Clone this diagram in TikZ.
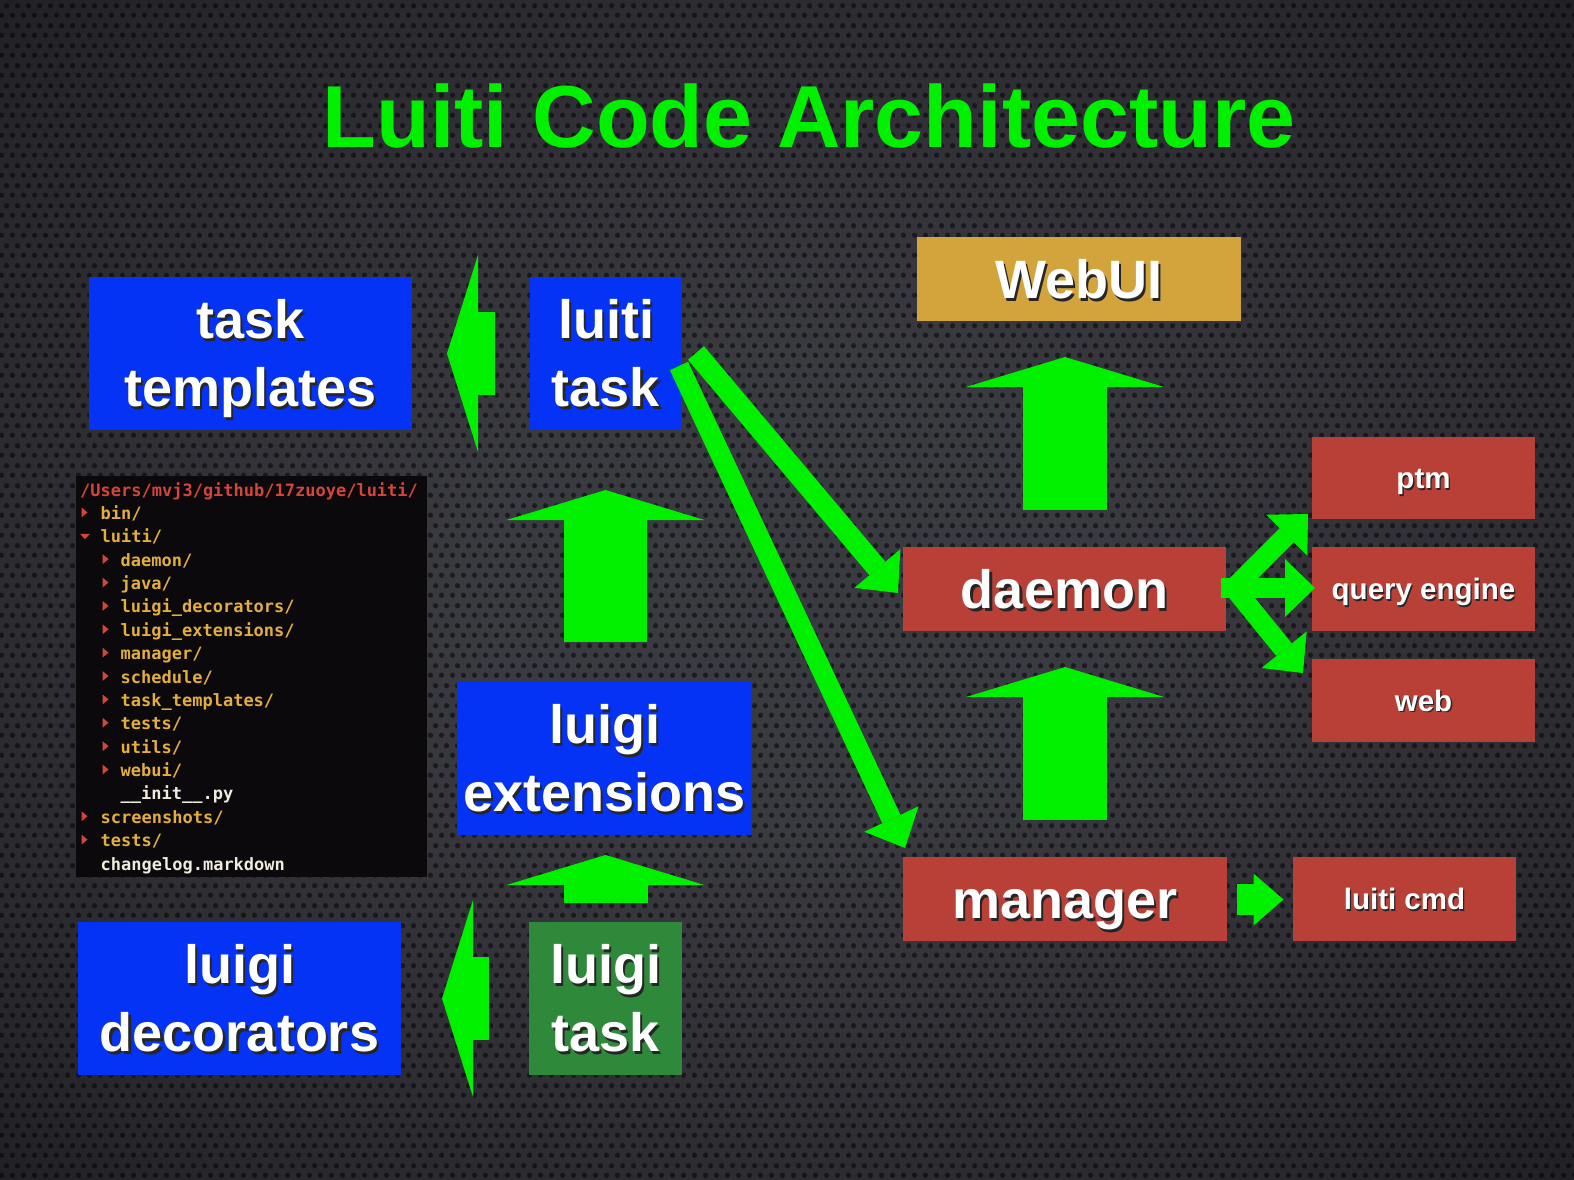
\documentclass[tikz,border=0pt]{standalone}
\usepackage{fontspec}
\setmainfont{Liberation Sans}
\newfontfamily\monof{DejaVu Sans Mono}
\usetikzlibrary{arrows.meta,patterns.meta}
\definecolor{lgreen}{HTML}{00F000}
\definecolor{bblue}{HTML}{0533F5}
\definecolor{bgreen}{HTML}{2E8A3A}
\definecolor{bred}{HTML}{B94036}
\definecolor{bgold}{HTML}{D4A43C}
\definecolor{shd}{HTML}{262628}
\definecolor{bgin}{HTML}{3A3A41}
\definecolor{bgmid}{HTML}{28272C}
\definecolor{bgdark}{HTML}{141216}
\definecolor{bgout}{HTML}{080608}
\definecolor{panel}{HTML}{0B090B}
\definecolor{pathred}{HTML}{D4453A}
\definecolor{diryel}{HTML}{E4AE3E}
\definecolor{filewh}{HTML}{EFECDD}
\pgfdeclareradialshading{bgshade}{\pgfpoint{0bp}{0bp}}{color(0bp)=(bgin); color(10bp)=(bgin); color(30bp)=(bgmid); color(46bp)=(bgdark); color(71bp)=(bgout)}
\tikzdeclarepattern{
  name=holes,
  type=uncolored,
  bottom left={(0pt,0pt)},
  top right={(11pt,20pt)},
  tile size={(11pt,20pt)},
  code={
    \pgfpathcircle{\pgfpoint{2.75pt}{5pt}}{2.8pt}
    \pgfpathcircle{\pgfpoint{8.25pt}{15pt}}{2.8pt}
    \pgfusepath{fill}
  }
}
\newcommand\sht[1]{\leavevmode\rlap{\kern0.045em\raisebox{-0.055em}{\textcolor{shd}{#1}}}#1}
\newcommand\capl[1]{\rule{0pt}{0.72em}\smash{\sht{#1}}}
\newcommand\lastl[1]{\smash{\sht{#1}}}
\newcommand\ftl[4]{\node[ftext, text=#3, anchor=base west] (f#1) at (#2, {496+23.375*#1}) {#4};}
\newcommand\rtri[2]{\pgfmathsetmacro\yb{496+23.375*#1}\fill[pathred] (#2,\yb-12) -- (#2+6,\yb-7) -- (#2,\yb-2) -- cycle;}
\newcommand\dtri[1]{\pgfmathsetmacro\yb{496+23.375*#1}\fill[pathred] (80,\yb-9) -- (90,\yb-9) -- (85,\yb-3.5) -- cycle;}
\begin{document}
\begin{tikzpicture}[x=1pt,y=-1pt,
  box/.style={inner sep=0pt, outer sep=0pt, text=white, font=\bfseries\fontsize{54}{68}\selectfont, align=center},
  smallbox/.style={box, font=\bfseries\fontsize{29.5}{36}\selectfont, fill=bred, minimum width=223pt},
  ftext/.style={inner sep=0pt, font=\monof\bfseries\fontsize{17}{20}\selectfont},
  upa/.style={draw=lgreen, line width=84pt, -{Triangle[length=30pt, width=198pt, line width=0pt]}},
  lfa/.style={draw=lgreen, line width=83pt, -{Triangle[length=31pt, width=197pt, line width=0pt]}},
  dga/.style={draw=lgreen, line width=21pt, -{Triangle[length=32pt, width=60pt, line width=0pt]}},
  tra/.style={draw=lgreen, line width=20pt, -{Triangle[length=30pt, width=58pt, line width=0pt]}},
  rta/.style={draw=lgreen, line width=31pt, -{Triangle[length=30pt, width=52pt, line width=0pt]}}
]
\useasboundingbox (0,0) rectangle (1574,1180);
\shade[shading=bgshade] (0,0) rectangle (1574,1180);
\fill[pattern=holes, pattern color=black, fill opacity=0.5] (0,0) rectangle (1574,1180);

% title
\node[inner sep=0pt, anchor=base, text=lgreen, font=\bfseries\fontsize{88}{88}\selectfont] (title) at (809,148) {Luiti Code Architecture};

% blue / green boxes
\node[box, fill=bblue, minimum width=323pt, minimum height=153pt] (tt) at (250.5,353.5) {\capl{task}\\\lastl{templates}};
\node[box, fill=bblue, minimum width=152pt, minimum height=153pt] (lt) at (606,353.5) {\capl{luiti}\\\lastl{task}};
\node[box, fill=bblue, minimum width=295pt, minimum height=153pt] (le) at (604.5,758.5) {\capl{luigi}\\\lastl{extensions}};
\node[box, fill=bgreen, minimum width=153pt, minimum height=153pt] (lgt) at (605.5,998.5) {\capl{luigi}\\\lastl{task}};
\node[box, fill=bblue, minimum width=323pt, minimum height=153pt] (ld) at (239.5,998.5) {\capl{luigi}\\\lastl{decorators}};

% right side boxes
\node[box, fill=bgold, minimum width=324pt, minimum height=84pt] (webui) at (1079,279) {\capl{WebUI}};
\node[box, fill=bred, minimum width=323pt, minimum height=84pt] (daemon) at (1064.5,589) {\capl{daemon}};
\node[box, fill=bred, minimum width=324pt, minimum height=84pt] (manager) at (1065,899) {\capl{manager}};
\node[smallbox, minimum height=82pt] (ptm) at (1423.5,478) {\capl{ptm}};
\node[smallbox, minimum height=84pt] (qe) at (1423.5,589) {\capl{query engine}};
\node[smallbox, minimum height=83pt] (web) at (1423.5,700.5) {\capl{web}};
\node[smallbox, minimum height=84pt] (cmd) at (1404.5,899) {\capl{luiti cmd}};

% file tree panel
\fill[panel] (76,476) rectangle (427,877);
\ftl{0}{80}{pathred}{/Users/mvj3/github/17zuoye/luiti/}
\ftl{1}{100.5}{diryel}{bin/}
\ftl{2}{100.5}{diryel}{luiti/}
\ftl{3}{120.5}{diryel}{daemon/}
\ftl{4}{120.5}{diryel}{java/}
\ftl{5}{120.5}{diryel}{luigi\_decorators/}
\ftl{6}{120.5}{diryel}{luigi\_extensions/}
\ftl{7}{120.5}{diryel}{manager/}
\ftl{8}{120.5}{diryel}{schedule/}
\ftl{9}{120.5}{diryel}{task\_templates/}
\ftl{10}{120.5}{diryel}{tests/}
\ftl{11}{120.5}{diryel}{utils/}
\ftl{12}{120.5}{diryel}{webui/}
\ftl{13}{120.5}{filewh}{\_\_init\_\_.py}
\ftl{14}{100.5}{diryel}{screenshots/}
\ftl{15}{100.5}{diryel}{tests/}
\ftl{16}{100.5}{filewh}{changelog.markdown}
\rtri{1}{81.5}
\dtri{2}
\rtri{3}{102.5}\rtri{4}{102.5}\rtri{5}{102.5}\rtri{6}{102.5}\rtri{7}{102.5}
\rtri{8}{102.5}\rtri{9}{102.5}\rtri{10}{102.5}\rtri{11}{102.5}\rtri{12}{102.5}
\rtri{14}{81.5}\rtri{15}{81.5}

% arrow end points
\coordinate (a1s) at (495,353.5);   \coordinate (a1e) at (447,353.5);
\coordinate (a2s) at (489,998.5);   \coordinate (a2e) at (442,998.5);
\coordinate (a3s) at (605.5,903);   \coordinate (a3e) at (605.5,855);
\coordinate (a4s) at (605.5,642);   \coordinate (a4e) at (605.5,490);
\coordinate (a5s) at (1065,510);    \coordinate (a5e) at (1065,357);
\coordinate (a6s) at (1065,820);    \coordinate (a6e) at (1065,667);
\coordinate (a7s) at (1237,899.5);  \coordinate (a7e) at (1283.5,899.5);
\coordinate (dAs) at (696,353);     \coordinate (dAe) at (898,593);
\coordinate (dBs) at (679,366);     \coordinate (dBe) at (905,848);
\coordinate (tOm) at (1221,588);    \coordinate (tOd) at (1234,588);
\coordinate (tPtm) at (1308,514);   \coordinate (tQe) at (1315,588);
\coordinate (tWeb) at (1303,673);

% arrows
\draw[lfa] (a1s) -- (a1e);
\draw[lfa] (a2s) -- (a2e);
\draw[upa, line width=84pt] (a3s) -- (a3e);
\draw[upa, line width=83pt] (a4s) -- (a4e);
\draw[upa] (a5s) -- (a5e);
\draw[upa] (a6s) -- (a6e);
\draw[rta] (a7s) -- (a7e);
\draw[dga] (dAs) -- (dAe);
\draw[dga, line width=20pt] (dBs) -- (dBe);
\draw[tra] (tOm) -- (tQe);
\draw[tra] (tOd) -- (tPtm);
\draw[tra] (tOd) -- (tWeb);
\end{tikzpicture}
\end{document}
